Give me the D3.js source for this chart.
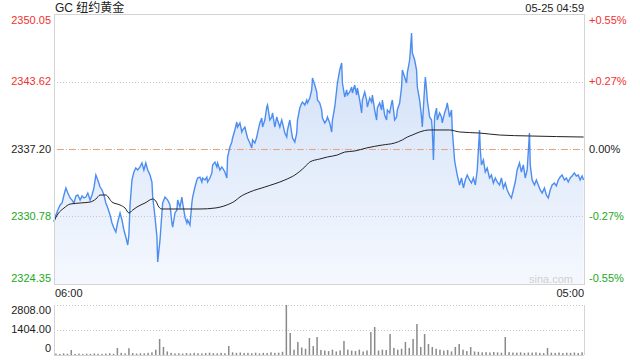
<!DOCTYPE html>
<html>
<head>
<meta charset="utf-8">
<script src="https://cdn.jsdelivr.net/npm/d3@7"></script>
<style>
  body { margin: 0; background: #fff; }
  svg text { font-family: Arial, "Liberation Sans", "Noto Sans CJK SC", sans-serif; }
</style>
</head>
<body>
<div id="chart"></div>
<script>
// minutes after 06:00, price
var priceTicks = [
  [0,2330.25],[5,2330.92],[10,2331.39],[16,2331.87],[21,2332.06],[26,2332.82],[31,2333.49],[36,2333.01],
  [42,2332.54],[47,2332.34],[52,2332.06],[57,2332.73],[62,2332.82],[68,2332.34],[73,2332.73],[78,2332.54],
  [83,2332.63],[88,2333.01],[94,2332.34],[99,2332.82],[104,2333.49],[109,2334.72],[114,2334.25],[120,2333.58],
  [125,2333.30],[130,2332.82],[135,2332.06],[140,2331.58],[146,2330.92],[151,2330.16],[156,2329.68],[161,2329.30],
  [166,2330.25],[172,2331.11],[177,2330.44],[182,2329.49],[187,2328.82],[192,2328.06],[195,2329.01],[198,2331.87],
  [203,2334.25],[208,2335.01],[213,2335.39],[218,2335.20],[224,2335.49],[229,2335.87],[234,2335.20],[239,2335.87],
  [244,2335.20],[250,2334.72],[255,2334.06],[257,2332.63],[263,2330.73],[268,2328.82],[270,2326.44],[276,2328.54],
  [281,2331.11],[283,2332.06],[289,2332.63],[296,2332.34],[302,2331.87],[307,2330.16],[309,2329.77],[315,2331.11],
  [320,2331.39],[322,2332.34],[328,2331.68],[333,2332.63],[335,2332.06],[341,2330.73],[346,2330.16],[348,2330.44],
  [354,2329.96],[359,2332.06],[361,2332.63],[367,2333.58],[372,2334.25],[374,2334.44],[380,2334.53],[385,2334.06],
  [387,2334.44],[393,2334.25],[398,2334.53],[400,2334.06],[406,2334.44],[411,2334.92],[413,2335.68],[419,2335.96],
  [424,2335.49],[426,2335.87],[432,2335.20],[437,2335.49],[439,2335.39],[445,2335.01],[450,2334.44],[452,2336.44],
  [458,2337.39],[463,2337.87],[465,2338.25],[471,2339.01],[476,2339.77],[478,2339.29],[484,2339.68],[489,2338.82],
  [491,2339.01],[497,2339.29],[502,2338.53],[504,2338.25],[510,2337.77],[515,2337.30],[517,2338.06],[523,2337.77],
  [528,2338.34],[530,2338.72],[536,2339.68],[541,2340.15],[543,2339.29],[549,2339.96],[554,2341.20],[556,2341.39],
  [562,2339.96],[567,2340.25],[569,2340.63],[575,2339.29],[580,2340.25],[582,2339.96],[588,2339.29],[593,2339.96],
  [595,2339.68],[601,2338.72],[606,2338.34],[608,2339.01],[614,2339.96],[619,2338.72],[621,2338.25],[627,2337.87],
  [632,2338.72],[634,2339.96],[640,2341.10],[645,2341.58],[647,2341.67],[653,2341.39],[658,2341.86],[660,2341.58],
  [666,2342.06],[671,2342.82],[673,2343.96],[679,2343.29],[684,2342.63],[686,2341.86],[692,2341.58],[697,2340.91],
  [699,2340.15],[705,2339.68],[710,2339.96],[712,2340.25],[718,2339.68],[723,2338.82],[725,2339.96],[731,2341.20],
  [736,2342.82],[738,2343.48],[744,2344.72],[749,2345.39],[751,2343.48],[757,2342.15],[762,2342.82],[764,2342.34],
  [770,2342.63],[775,2343.10],[777,2342.53],[783,2343.29],[788,2342.34],[790,2343.01],[796,2341.86],[801,2340.63],
  [803,2341.86],[809,2342.63],[814,2341.86],[816,2341.20],[822,2342.06],[827,2341.67],[829,2342.34],[835,2340.91],
  [840,2339.96],[842,2341.10],[848,2341.58],[853,2340.91],[855,2341.86],[861,2340.44],[866,2339.96],[868,2340.91],
  [874,2340.63],[879,2341.58],[881,2341.86],[887,2339.96],[892,2340.25],[894,2340.91],[900,2341.58],[905,2343.10],
  [907,2344.72],[913,2344.05],[918,2343.48],[920,2344.44],[926,2345.67],[928,2346.62],[931,2348.24],[933,2346.34],
  [939,2345.67],[944,2344.72],[946,2343.10],[952,2341.86],[957,2340.25],[959,2339.29],[965,2343.10],[967,2344.05],
  [970,2342.82],[972,2341.86],[978,2340.25],[983,2339.96],[985,2339.01],[988,2336.15],[991,2340.25],[996,2341.10],
  [998,2339.96],[1004,2340.63],[1009,2340.25],[1011,2339.68],[1017,2340.63],[1022,2341.20],[1024,2341.58],[1030,2340.25],
  [1035,2340.91],[1037,2339.01],[1043,2336.15],[1045,2335.68],[1050,2334.72],[1056,2333.77],[1061,2334.44],[1066,2333.49],
  [1071,2334.25],[1076,2334.72],[1082,2334.25],[1087,2333.96],[1092,2334.44],[1097,2333.77],[1102,2335.20],[1108,2339.01],
  [1110,2337.10],[1113,2335.68],[1118,2336.15],[1123,2335.01],[1128,2335.39],[1134,2334.44],[1139,2334.72],[1144,2333.96],
  [1149,2334.44],[1154,2334.06],[1160,2333.77],[1165,2334.44],[1170,2333.49],[1175,2333.96],[1180,2333.30],[1186,2332.82],
  [1191,2332.54],[1196,2333.30],[1201,2334.06],[1206,2335.20],[1212,2335.87],[1217,2335.01],[1222,2335.68],[1227,2334.44],
  [1232,2335.20],[1238,2338.72],[1240,2335.68],[1245,2334.25],[1251,2333.77],[1256,2334.25],[1261,2333.77],[1266,2333.30],
  [1271,2333.01],[1277,2333.49],[1282,2332.82],[1287,2332.54],[1292,2333.30],[1297,2333.77],[1303,2333.96],[1308,2333.68],
  [1313,2334.25],[1318,2334.53],[1323,2334.72],[1329,2334.25],[1334,2334.44],[1339,2334.06],[1344,2334.44],[1349,2334.63],
  [1355,2334.92],[1360,2334.63],[1365,2334.72],[1370,2334.25],[1375,2334.63],[1379,2334.25]
];

// average price line
var avgTicks = [
  [0,2330.35],[10,2331.01],[26,2331.58],[42,2331.96],[68,2332.06],[94,2332.15],[109,2332.44],[120,2332.82],
  [135,2332.82],[151,2332.15],[172,2331.87],[185,2331.58],[195,2331.11],[205,2331.39],[216,2331.68],[237,2332.06],
  [257,2332.44],[265,2332.25],[273,2331.68],[281,2331.49],[380,2331.49],[419,2331.58],[450,2331.87],[471,2332.25],
  [484,2332.63],[510,2333.11],[549,2333.58],[601,2334.25],[627,2334.72],[653,2335.49],[666,2335.96],[692,2336.25],
  [712,2336.44],[738,2336.63],[757,2336.91],[783,2337.01],[814,2337.30],[855,2337.58],[887,2337.77],[907,2338.06],
  [920,2338.34],[933,2338.53],[952,2338.82],[978,2339.01],[1030,2339.01],[1056,2338.82],[1108,2338.72],[1160,2338.53],
  [1238,2338.44],[1379,2338.34]
];

// volume, one value per 10 minutes
var volumes = [
  80,60,90,70,280,60,80,50,70,60,
  90,70,60,80,100,70,390,120,90,380,
  110,80,100,90,120,150,300,900,450,200,
  120,90,100,80,110,90,120,100,90,110,
  130,100,90,120,100,505,150,120,140,110,
  120,100,130,90,120,110,150,120,130,180,
  2808,1235,300,730,420,350,955,500,1010,280,
  250,220,300,200,260,786,300,250,220,300,
  200,260,1290,1570,250,300,280,1180,400,300,
  350,730,400,900,1740,450,1180,620,450,350,
  300,250,280,200,450,620,300,220,450,200,
  180,150,160,140,170,150,130,1010,160,140,
  130,150,120,140,130,150,120,110,390,130,
  120,140,110,130,120,140,110,150
];

var prevClose = 2337.20;
var priceLabels = [2350.05, 2343.62, 2337.20, 2330.78, 2324.35];
var pctLabels = ["+0.55%", "+0.27%", "0.00%", "-0.27%", "-0.55%"];
var volTickLabels = ["2808.00", "1404.00", "0"];
var timeLabels = ["06:00", "05:00"];

(function() {
    var width = 640, height = 360;
    var pLeft = 54, pRight = 584, pTop = 14, pBottom = 284;
    var vTop = 305, vBottom = 355;

    var svg = d3.select("#chart").append("svg")
        .attr("width", width)
        .attr("height", height);

    var x = d3.scaleLinear().domain([0, 1380]).range([pLeft, pRight]);
    var y = d3.scaleLinear().domain([2324.35, 2350.05]).range([pBottom, pTop]);
    var yv = d3.scaleLinear().domain([0, 2808]).range([vBottom, vTop]);

    var defs = svg.append("defs");
    var grad = defs.append("linearGradient")
        .attr("id", "areaGrad")
        .attr("x1", 0).attr("y1", 0).attr("x2", 0).attr("y2", 1);
    grad.append("stop").attr("offset", "0%").attr("stop-color", "#cfdff7");
    grad.append("stop").attr("offset", "100%").attr("stop-color", "#f5f8fe");

    // area under price
    var area = d3.area()
        .x(function(d) { return x(d[0]); })
        .y0(pBottom)
        .y1(function(d) { return y(d[1]); });

    svg.append("path")
        .datum(priceTicks)
        .attr("d", area)
        .attr("fill", "url(#areaGrad)");

    // grid lines
    [2343.62, 2330.78].forEach(function(v) {
        svg.append("line")
            .attr("x1", pLeft).attr("x2", pRight)
            .attr("y1", Math.round(y(v)) + 0.5).attr("y2", Math.round(y(v)) + 0.5)
            .attr("stroke", "#c8c8c8")
            .attr("stroke-dasharray", "1,2");
    });
    var midY = Math.round(y(prevClose)) + 0.5;
    svg.append("line")
        .attr("x1", pLeft).attr("x2", pRight)
        .attr("y1", midY).attr("y2", midY)
        .attr("stroke", "#bbb")
        .attr("stroke-dasharray", "1,2");
    svg.append("line")
        .attr("x1", pLeft + 3).attr("x2", pRight)
        .attr("y1", midY).attr("y2", midY)
        .attr("stroke", "#f0a070")
        .attr("stroke-dasharray", "6,6");

    svg.append("path")
        .datum(priceTicks)
        .attr("d", d3.line()
            .x(function(d) { return x(d[0]); })
            .y(function(d) { return y(d[1]); }))
        .attr("fill", "none")
        .attr("stroke", "#4d8df0")
        .attr("stroke-width", 1.4);

    svg.append("path")
        .datum(avgTicks)
        .attr("d", d3.line()
            .curve(d3.curveMonotoneX)
            .x(function(d) { return x(d[0]); })
            .y(function(d) { return y(d[1]); }))
        .attr("fill", "none")
        .attr("stroke", "#222")
        .attr("stroke-width", 1);

    // frame
    svg.append("rect")
        .attr("x", pLeft + 0.5).attr("y", pTop + 0.5)
        .attr("width", pRight - pLeft).attr("height", pBottom - pTop)
        .attr("fill", "none")
        .attr("stroke", "#d4d4d4");

    // title & date
    svg.append("text").attr("x", 55).attr("y", 12)
        .attr("font-size", 12).attr("fill", "#222")
        .text("GC 纽约黄金");
    svg.append("text").attr("x", pRight).attr("y", 12)
        .attr("text-anchor", "end")
        .attr("font-size", 11).attr("fill", "#222")
        .text("05-25 04:59");

    // price / percent labels
    function labelColor(v) {
        if (v > prevClose + 0.001) return "#f0312f";
        if (v < prevClose - 0.001) return "#22a822";
        return "#222";
    }
    function labelY(i) {
        var yy = y(priceLabels[i]);
        if (i === 0) yy += 6;
        if (i === priceLabels.length - 1) yy -= 6;
        return yy;
    }
    svg.selectAll(".plabel")
        .data(priceLabels)
        .enter().append("text")
        .attr("class", "plabel")
        .attr("x", 51)
        .attr("y", function(d, i) { return labelY(i); })
        .attr("dy", "0.35em")
        .attr("text-anchor", "end")
        .attr("font-size", 11)
        .attr("fill", labelColor)
        .text(function(d) { return d.toFixed(2); });

    svg.selectAll(".pct")
        .data(pctLabels)
        .enter().append("text")
        .attr("class", "pct")
        .attr("x", 589)
        .attr("y", function(d, i) { return labelY(i); })
        .attr("dy", "0.35em")
        .attr("font-size", 11)
        .attr("fill", function(d, i) { return labelColor(priceLabels[i]); })
        .text(function(d) { return d; });

    svg.append("text").attr("x", 573).attr("y", 283)
        .attr("text-anchor", "end")
        .attr("font-size", 11).attr("fill", "#d0d0d0")
        .text("sina.com");

    // time labels
    svg.append("text").attr("x", 55).attr("y", 297)
        .attr("font-size", 11).attr("fill", "#222").text(timeLabels[0]);
    svg.append("text").attr("x", pRight).attr("y", 297)
        .attr("text-anchor", "end")
        .attr("font-size", 11).attr("fill", "#222").text(timeLabels[1]);

    // volume panel
    [2808, 1404].forEach(function(v) {
        svg.append("line")
            .attr("x1", pLeft).attr("x2", pRight)
            .attr("y1", Math.round(yv(v)) + 0.5).attr("y2", Math.round(yv(v)) + 0.5)
            .attr("stroke", "#c8c8c8")
            .attr("stroke-dasharray", "1,2");
    });
    svg.selectAll(".vbar")
        .data(volumes)
        .enter().append("rect")
        .attr("class", "vbar")
        .attr("x", function(d, i) { return x(i * 10 + 5) - 0.75; })
        .attr("y", function(d) { return yv(d); })
        .attr("width", 1.5)
        .attr("height", function(d) { return vBottom - yv(d); })
        .attr("fill", "#8a8a8a");
    svg.append("line")
        .attr("x1", pLeft + 0.5).attr("x2", pLeft + 0.5)
        .attr("y1", vTop).attr("y2", vBottom)
        .attr("stroke", "#d4d4d4");
    svg.append("line")
        .attr("x1", pRight + 0.5).attr("x2", pRight + 0.5)
        .attr("y1", vTop).attr("y2", vBottom)
        .attr("stroke", "#d4d4d4");
    svg.append("line")
        .attr("x1", pLeft).attr("x2", pRight)
        .attr("y1", vBottom + 0.5).attr("y2", vBottom + 0.5)
        .attr("stroke", "#d4d4d4");

    svg.selectAll(".vlabel")
        .data(volTickLabels)
        .enter().append("text")
        .attr("class", "vlabel")
        .attr("x", 51)
        .attr("y", function(d, i) { return [310, 329, 348][i]; })
        .attr("dy", "0.35em")
        .attr("text-anchor", "end")
        .attr("font-size", 11)
        .attr("fill", "#222")
        .text(function(d) { return d; });
})();
</script>
</body>
</html>
